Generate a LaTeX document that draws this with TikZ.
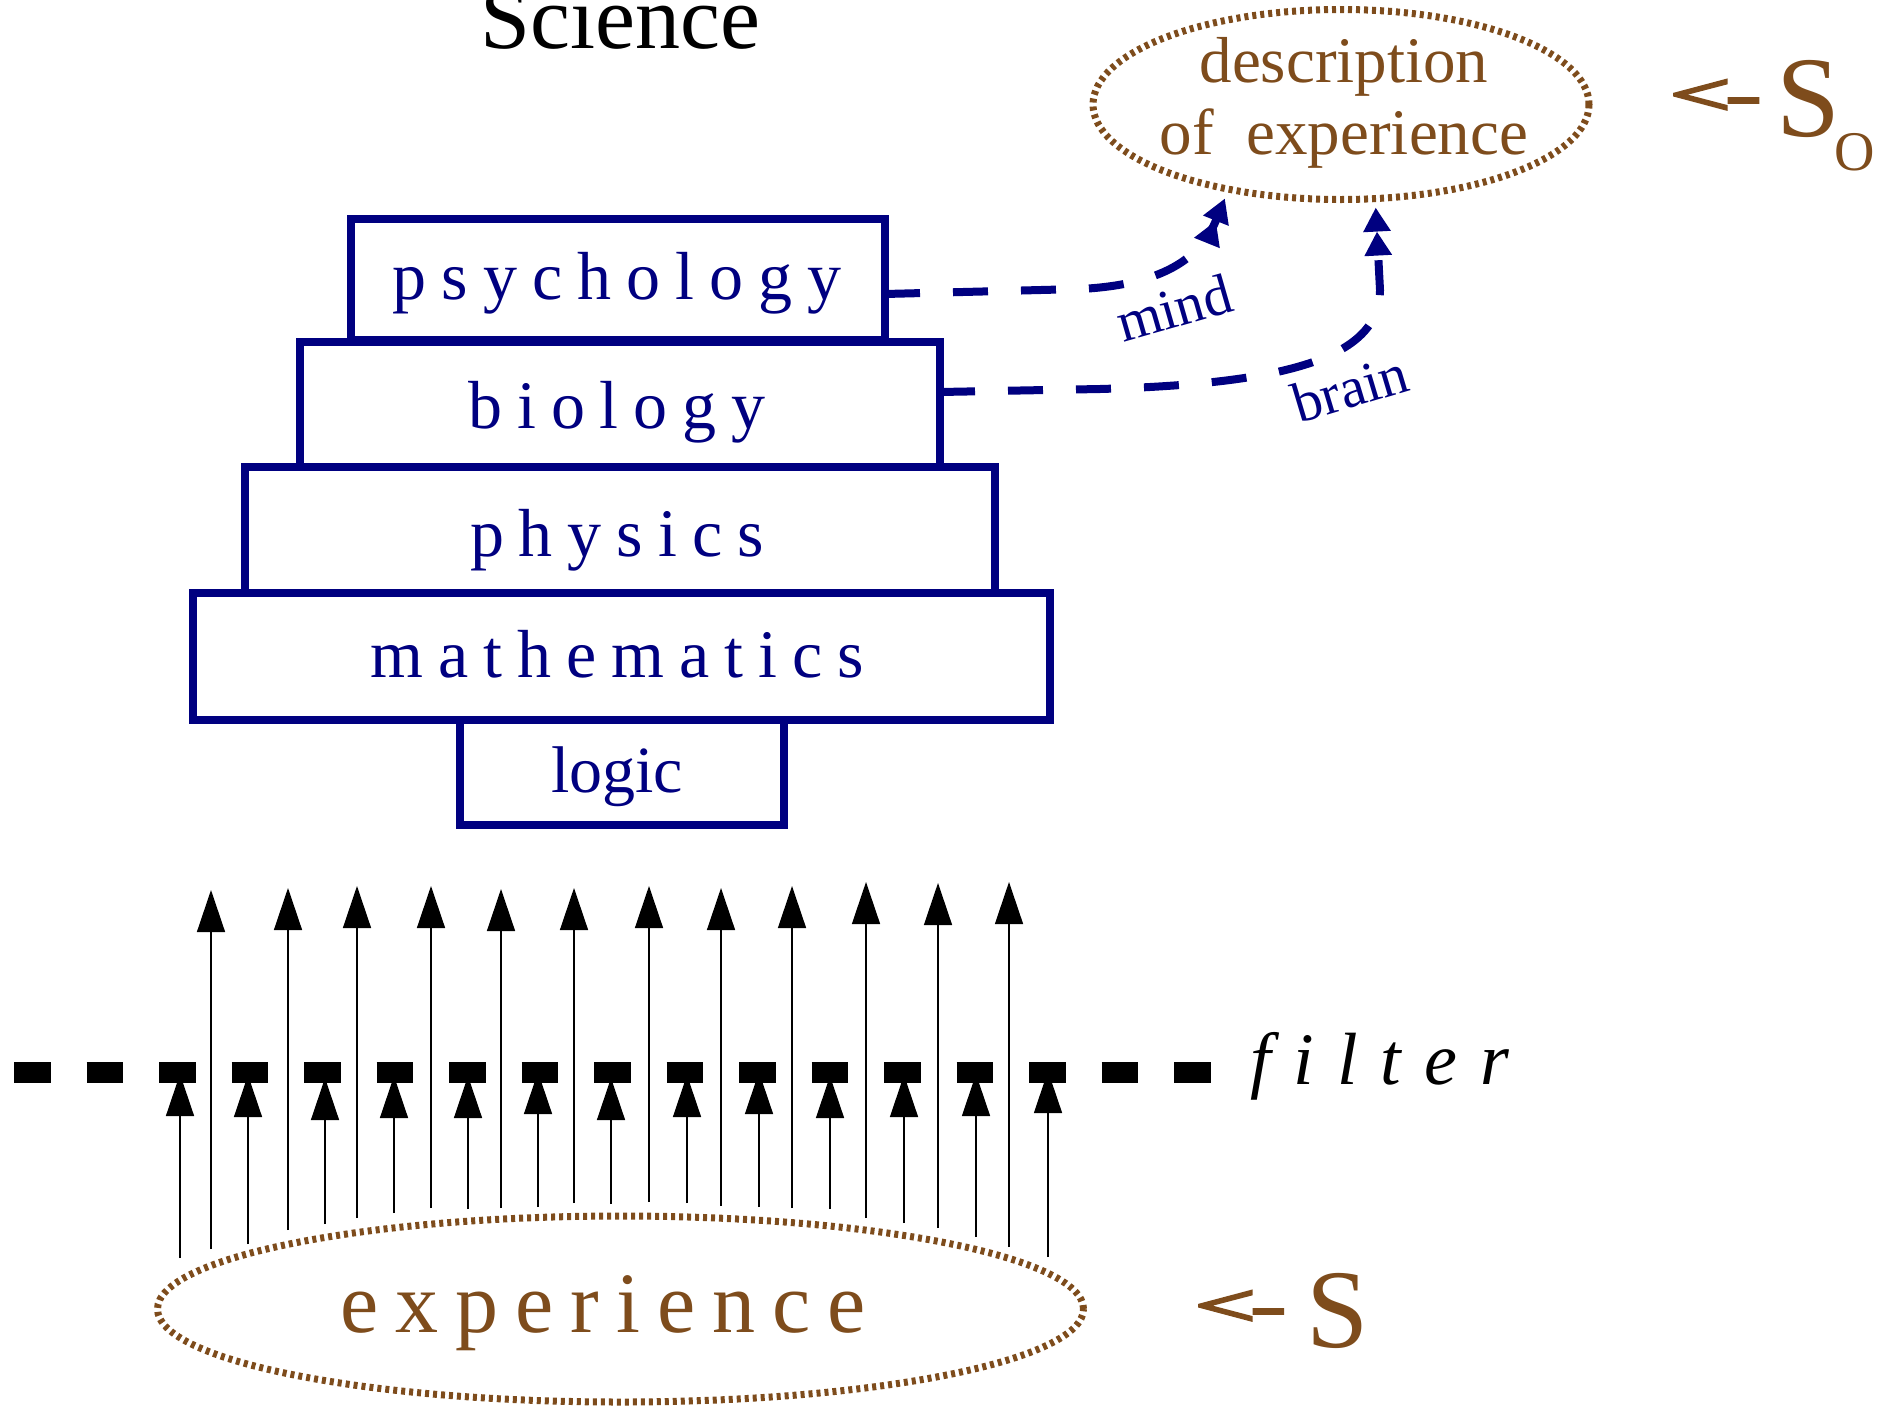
\documentclass[tikz,border=0pt]{standalone}
\usepackage{fontspec}
\setmainfont{Liberation Serif}
\usetikzlibrary{arrows.meta,shapes.geometric}
\definecolor{navyb}{RGB}{0,0,128}
\definecolor{brn}{RGB}{126,76,28}
\makeatletter
\newcommand\trackit[2]{{\def\trk@sep{}\@tfor\trk@c:=#2\do{\trk@sep\trk@c\def\trk@sep{\kern#1}}}}
\makeatother
\newcommand\fsz[1]{\fontsize{#1}{#1}\selectfont}
\newcommand\chevron{{\bfseries\addfontfeatures{FakeBold=2.5}\scalebox{1.85}[1]{<\kern-4pt-}}}
\begin{document}
\begin{tikzpicture}[x=1pt,y=-1pt,
  txt/.style={inner sep=0pt, outer sep=0pt, anchor=base},
  layer/.style={draw=navyb, line width=7.5pt, rectangle, inner sep=0pt, outer sep=0pt},
  dotell/.style={draw=brn, ellipse, line width=7pt, dash pattern=on 4pt off 4pt, inner sep=0pt, outer sep=0pt},
  conn/.style={draw=navyb, line width=8pt, dash pattern=on 35pt off 33pt,
     -{Triangle[length=24pt,width=26pt]Triangle[length=24pt,width=26pt]}},
  ray/.style={draw=black, line width=1.4pt, -{Triangle[length=42pt,width=28pt]}},
  boxtext/.style={txt, font=\fsz{68}, text=navyb},
  browntext/.style={txt, text=brn},
]
\useasboundingbox (0,0) rectangle (1897,1408);

% title
\node[txt, font=\fsz{90}] (sci) at (620,48) {Science};

% stacked layers
\node[layer, minimum width=534pt, minimum height=121pt] (psy) at (618,279.5) {};
\node[layer, minimum width=640pt, minimum height=125pt] (bio) at (620,404.5) {};
\node[layer, minimum width=750pt, minimum height=126pt] (phy) at (620,530) {};
\node[layer, minimum width=857pt, minimum height=127pt] (mat) at (621.5,656.5) {};
\node[layer, minimum width=324pt, minimum height=105pt] (log) at (622,772.5) {};

\node[boxtext] (psyt) at (617,299) {\trackit{15pt}{psychology}};
\node[boxtext] (biot) at (617,428) {\trackit{15pt}{biology}};
\node[boxtext] (phyt) at (617,556) {\trackit{15pt}{physics}};
\node[boxtext] (matt) at (617,677) {\trackit{15pt}{mathematics}};
\node[txt, font=\fsz{66}, text=navyb] (logt) at (617,792) {logic};

% description ellipse
\node[dotell, minimum width=496pt, minimum height=190pt] (desc) at (1341,104.5) {};
\node[browntext, font=\fsz{65}] (desc1) at (1344,82) {description};
\node[browntext, font=\fsz{65}] (desc2) at (1344,154) {of\ \ experience};

\node[browntext, anchor=base west, font=\fsz{60}] (soarrow) at (1669,114.6) {\chevron};
\node[browntext, anchor=base west, font=\fsz{115}] (so) at (1776,136) {S};
\node[browntext, anchor=base west, font=\fsz{56}] (sosub) at (1834,170) {O};

% connectors
\draw[conn, shorten >=10pt] ([yshift=-14.5pt]psy.east) -- (1080,289)
   .. controls (1160,285) and (1200,260) .. (desc.-143.1);
\draw[conn, shorten >=9pt] ([yshift=12.5pt]bio.east) -- (1100,389)
   .. controls (1280,384) and (1380,360) .. (1380,290) -- (desc.-70.5);
\node[inner sep=0pt, font=\fsz{57}, text=navyb, rotate=16] (mindl) at (1174,308) {mind};
\node[inner sep=0pt, font=\fsz{57}, text=navyb, rotate=16.7] (brainl) at (1350,388) {brain};

% experience ellipse
\node[dotell, minimum width=926pt, minimum height=186pt] (exp) at (620.5,1309) {};
\node[browntext, font=\fsz{86}] (expt) at (603,1332) {\trackit{17pt}{experience}};
\node[browntext, anchor=base west, font=\fsz{60}] (sarrow) at (1194,1325.6) {\chevron};
\node[browntext, anchor=base west, font=\fsz{112}] (s) at (1306,1347) {S};

% long rays passing the filter
\foreach \i/\x/\t/\b in {1/211/890/1249, 2/288/888/1230, 3/357/886/1218, 4/431/886/1208,
  5/501/889/1208, 6/574/888/1203, 7/649/886/1202, 8/721/888/1206, 9/792/886/1208,
  10/866/882/1218, 11/938/883/1228, 12/1009/882/1247}{
  \coordinate (lb\i) at (\x,\b);
  \coordinate (lt\i) at (\x,\t);
  \draw[ray] (lb\i) -- (lt\i);
}
% short rays stopped by the filter
\foreach \i/\x/\t/\b in {1/180/1074/1258, 2/248/1075/1244, 3/325/1078/1224, 4/394/1076/1213,
  5/468/1076/1209, 6/538/1072/1207, 7/611/1078/1204, 8/687/1075/1203, 9/759/1072/1207,
  10/830/1076/1209, 11/904/1075/1223, 12/976/1074/1237, 13/1048/1071/1257}{
  \coordinate (sb\i) at (\x,\b);
  \coordinate (st\i) at (\x,\t);
  \draw[ray] (sb\i) -- (st\i);
}

% filter
\coordinate (fl) at (14,1072);
\coordinate (fr) at (1210.5,1072);
\draw[line width=21pt, dash pattern=on 36.5pt off 36pt] (fl) -- (fr);
\node[txt, anchor=base west, font=\fsz{74}\itshape] (filt) at (1250,1084) {\trackit{23pt}{filter}};
\end{tikzpicture}
\end{document}
